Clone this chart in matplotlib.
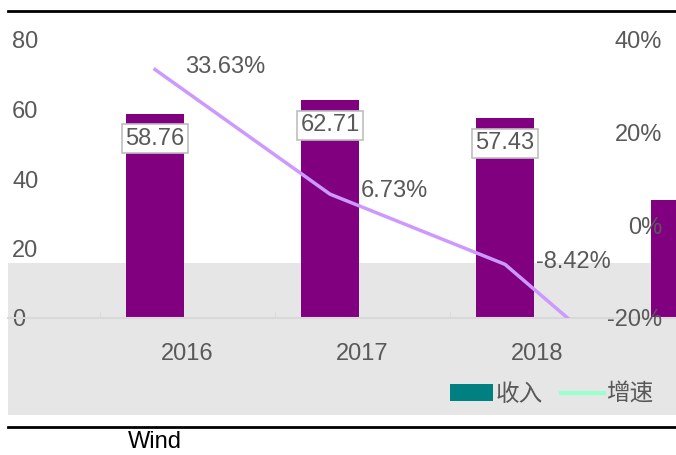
import matplotlib
matplotlib.use("Agg")
import matplotlib.pyplot as plt
from matplotlib.patches import Rectangle, Patch
from matplotlib.lines import Line2D

years = ["2016", "2017", "2018", "2019"]
revenue = [58.76, 62.71, 57.43, 34.0]
growth = [33.63, 6.73, -8.42, -40.8]
left_ticks = [0, 20, 40, 60, 80]
right_ticks = [-20, 0, 20, 40]
legend_labels = ["收入", "增速"]
source = "Wind"

plt.rcParams['font.family'] = ['Liberation Sans', 'Noto Sans CJK SC', 'DejaVu Sans']
W, H = 676, 455
fig = plt.figure(figsize=(W / 100, H / 100), dpi=100)
TXT = "#595959"
FS = 17

def fx(px):
    return px / W

def fy(py):
    return 1 - py / H

# light grey panel (behind)
fig.patches.append(Rectangle((fx(8), fy(415)), fx(668), (415 - 263) / H,
                             transform=fig.transFigure, facecolor="#e6e6e6",
                             edgecolor="none", zorder=-5))
# black rules
fig.add_artist(Line2D([fx(8), fx(676)], [fy(11), fy(11)], color="black", lw=2))
fig.add_artist(Line2D([fx(8), fx(676)], [fy(427), fy(427)], color="black", lw=2))

ax = fig.add_axes([fx(8), fy(318), 668 / W, (318 - 40) / H])
ax.patch.set_visible(False)
ax.set_ylim(0, 80)
x = list(range(len(years)))
off = -0.183
bx = [i + off for i in x]
ax.bar(bx, revenue, width=0.326, color="#800080", zorder=2)
for xi, v in zip(bx, revenue):
    ax.annotate(f"{v:.2f}", (xi, v), xytext=(0, -18), textcoords="offset points",
                ha="center", va="center", fontsize=FS, color=TXT, zorder=5,
                bbox=dict(boxstyle="square,pad=0.15", fc="white", ec="#bfbfbf", lw=1.2),
                annotation_clip=True)
for s in ["top", "left", "right"]:
    ax.spines[s].set_visible(False)
ax.spines["bottom"].set_color("#d9d9d9")
ax.spines["bottom"].set_linewidth(1.5)
ax.set_xticks(x)
ax.set_xticklabels(years, fontsize=FS, color=TXT)
ax.tick_params(axis="x", length=0, pad=18)
ax.set_xticks([i + 0.5 for i in range(-2, 4)], minor=True)
ax.tick_params(axis="x", which="minor", direction="in", length=5, color="#d9d9d9")
ax.set_yticks(left_ticks)
ax.set_yticklabels([str(t) for t in left_ticks], fontsize=FS, color=TXT)
ax.tick_params(axis="y", length=0, direction="in", pad=-3)
for lab in ax.get_yticklabels():
    lab.set_horizontalalignment("left")

ax2 = ax.twinx()
ax2.set_ylim(-20, 40)
ax2.plot(bx, growth, color="#cc99ff", lw=2.5, zorder=4)
ax.set_xlim(-1.023, 2.794)
for xi, g in zip(bx, growth):
    if -20 <= g <= 40:
        ax2.annotate(f"{g:.2f}%", (xi, g), xytext=(22, 2), textcoords="offset points",
                     ha="left", va="center", fontsize=FS, color=TXT)
for s in ["top", "left", "right", "bottom"]:
    ax2.spines[s].set_visible(False)
ax2.set_yticks(right_ticks)
ax2.set_yticklabels([f"{t}%" for t in right_ticks], fontsize=FS, color=TXT)
ax2.tick_params(axis="y", length=0, pad=-10)
for lab in ax2.get_yticklabels():
    lab.set_horizontalalignment("right")

handles = [Patch(facecolor="#008080", edgecolor="none"),
           Line2D([0], [0], color="#99ffcc", lw=3)]
fig.legend(handles, legend_labels, loc="center", bbox_to_anchor=(fx(552), fy(395)),
           ncol=2, frameon=False, fontsize=FS, labelcolor=TXT,
           handlelength=1.8, handletextpad=0.1, columnspacing=0.8)

fig.text(fx(155), fy(442), source, ha="center", va="center", fontsize=FS, color="black")

fig.savefig("out.png", dpi=100)
